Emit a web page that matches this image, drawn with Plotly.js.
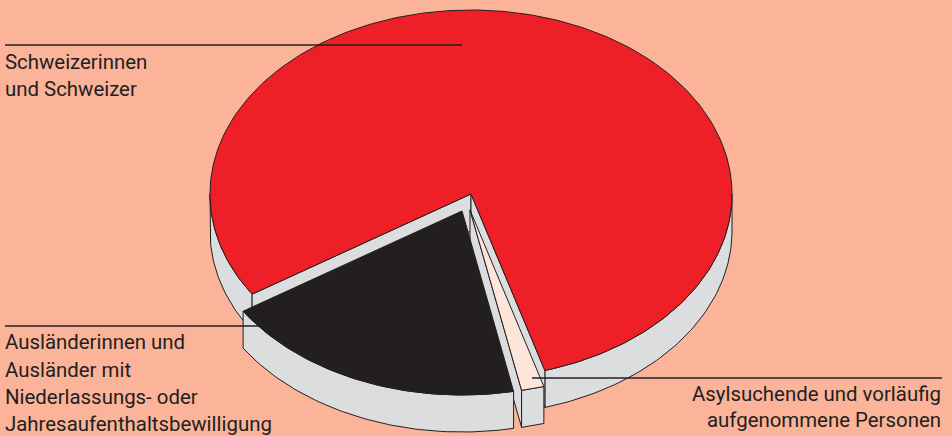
<!DOCTYPE html>
<html>
<head>
<meta charset="utf-8">
<script src="https://cdn.plot.ly/plotly-3.0.1.min.js"></script>
<style>html,body{margin:0;padding:0;background:#fbb39a;overflow:hidden}</style>
</head>
<body>
<div id="chart" style="width:952px;height:436px"></div>
<script>
// Data (share of the population, percent)
var categories = ["Schweizerinnen und Schweizer", "Asylsuchende und vorläufig aufgenommene Personen", "Ausländerinnen und Ausländer mit Niederlassungs- oder Jahresaufenthaltsbewilligung"];
var shares = [79.6, 1.4, 19.0];
var labelSwiss = ["Schweizerinnen", "und Schweizer"];
var labelForeign = ["Ausländerinnen und", "Ausländer mit", "Niederlassungs- oder", "Jahresaufenthaltsbewilligung"];
var labelAsylum = ["Asylsuchende und vorläufig", "aufgenommene Personen"];

// Styles and projection of the tilted disc
var W = 952, H = 436;
var BG = "#fbb39a", RED = "#ee1f26", BLACK = "#231f20", GREY = "#dcddde", PEACH = "#fde5d9", INK = "#231f20";
var CX = 471, CY = 194, RX = 261, RY = 184, DEPTH = 37;
var START = 237;
var OFFSET = [[0, 0], [-1, 16], [-9, 17]];

function px(a, o) { return CX + o[0] + RX * Math.sin(a * Math.PI / 180); }
function py(a, o, d) { return CY + o[1] + (d || 0) - RY * Math.cos(a * Math.PI / 180); }
function arc(a0, a1, o, d) {
  var xs = [], ys = [], n = Math.max(2, Math.ceil(Math.abs(a1 - a0)));
  for (var i = 0; i <= n; i++) {
    var a = a0 + (a1 - a0) * i / n;
    xs.push(px(a, o)); ys.push(py(a, o, d));
  }
  return { x: xs, y: ys };
}
function poly(xs, ys, fill) {
  return { type: "scatter", mode: "lines", x: xs.concat([xs[0]]), y: ys.concat([ys[0]]), fill: "toself",
    fillcolor: fill, line: { color: INK, width: 1 }, hoverinfo: "skip", showlegend: false };
}
function sector(a0, a1, o, fill) {
  var c = arc(a0, a1, o, 0);
  return poly([CX + o[0]].concat(c.x), [CY + o[1]].concat(c.y), fill);
}
function rim(a0, a1, o) {
  var t = arc(a0, a1, o, 0), b = arc(a1, a0, o, DEPTH);
  return poly(t.x.concat(b.x), t.y.concat(b.y), GREY);
}
function cutWall(a, o) {
  var ax = CX + o[0], ay = CY + o[1], ex = px(a, o), ey = py(a, o, 0);
  return poly([ax, ex, ex, ax], [ay, ey, ey + DEPTH, ay + DEPTH], GREY);
}

// Slice angles, clockwise from 12 o'clock, all from the shares
var total = shares.reduce(function (s, v) { return s + v; }, 0);
var a = START, bounds = [];
shares.forEach(function (v) { var e = a + v / total * 360; bounds.push([a, e]); a = e; });
var sw = bounds[0], as = bounds[1], fo = bounds[2];

var traces = [];
// Swiss slice: visible rim on both sides of the back half, cut walls, top
traces.push(rim(sw[0], 270, OFFSET[0]));
traces.push(rim(450, sw[1], OFFSET[0]));
traces.push(cutWall(sw[0], OFFSET[0]));
traces.push(cutWall(sw[1], OFFSET[0]));
traces.push(sector(sw[0], sw[1], OFFSET[0], RED));
// Asylum slice: left wall, rim, top
traces.push(cutWall(as[1], OFFSET[1]));
traces.push(rim(as[0], as[1], OFFSET[1]));
traces.push(sector(as[0], as[1], OFFSET[1], PEACH));
// Foreign residents slice: rim, top
traces.push(rim(fo[0], fo[1], OFFSET[2]));
traces.push(sector(fo[0], fo[1], OFFSET[2], BLACK));

function labelLines(lines, x, baselines, anchor) {
  return lines.map(function (t, i) {
    return { text: t, x: x, y: baselines[i], xref: "x", yref: "y", xanchor: anchor, yanchor: "bottom",
      showarrow: false, borderpad: 0, borderwidth: 0, yshift: -5,
      font: { family: "Roboto, sans-serif", size: 20.4, color: INK } };
  });
}
var annotations = labelLines(labelSwiss, 5, [69, 96], "left")
  .concat(labelLines(labelForeign, 5, [349, 377, 404, 431], "left"))
  .concat(labelLines(labelAsylum, 941, [401, 427], "right"));

function leader(x0, x1, y) {
  return { type: "line", xref: "x", yref: "y", x0: x0, x1: x1, y0: y, y1: y, layer: "above",
    line: { color: INK, width: 1.4 } };
}

Plotly.newPlot("chart", traces, {
  width: W, height: H,
  margin: { l: 0, r: 0, t: 0, b: 0, pad: 0 },
  paper_bgcolor: BG, plot_bgcolor: BG,
  showlegend: false,
  xaxis: { range: [0, W], visible: false, fixedrange: true },
  yaxis: { range: [H, 0], visible: false, fixedrange: true },
  shapes: [leader(5, 462, 45), leader(5, 262, 326), leader(532, 942, 378)],
  annotations: annotations
}, { staticPlot: true, displayModeBar: false });
</script>
</body>
</html>
